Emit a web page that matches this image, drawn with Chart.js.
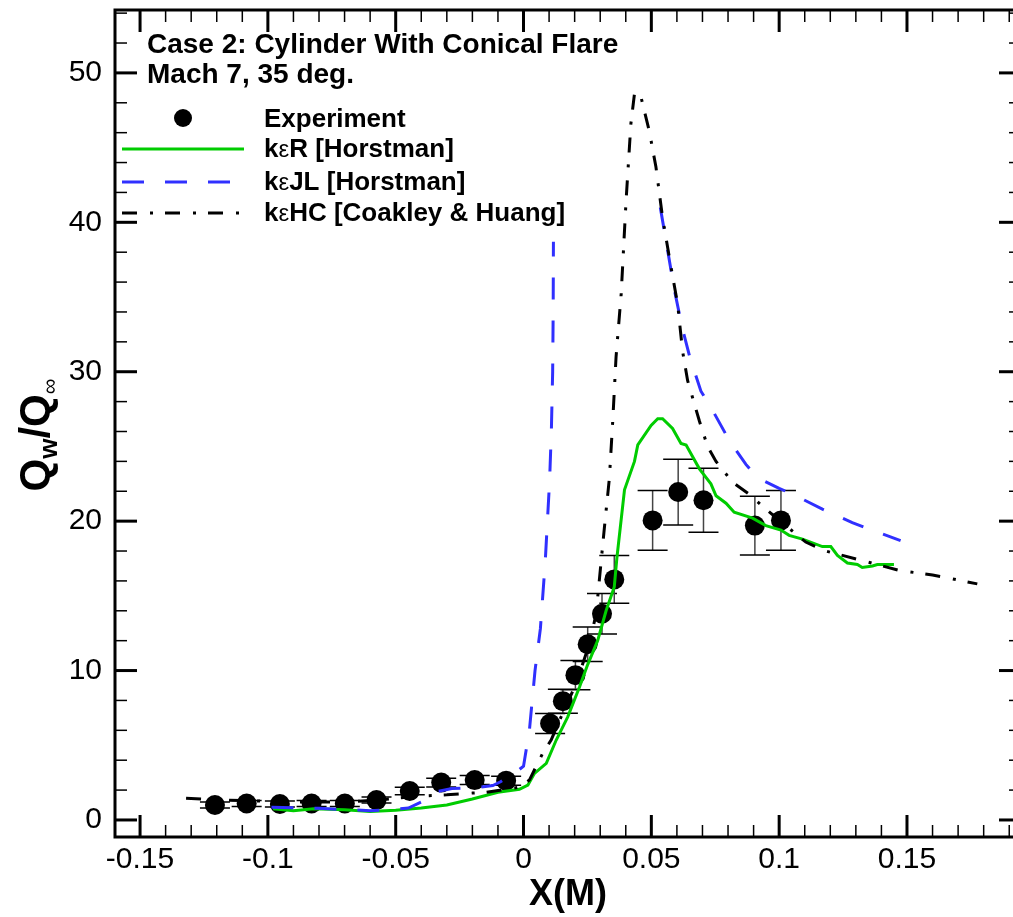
<!DOCTYPE html>
<html>
<head>
<meta charset="utf-8">
<script src="https://cdn.jsdelivr.net/npm/chart.js@4/dist/chart.umd.min.js"></script>
<style>
  html, body { margin: 0; padding: 0; background: #fff; overflow: hidden; }
  canvas { display: block; }
</style>
</head>
<body>
<canvas id="chart" width="1040" height="917"></canvas>
<script>
// Experiment (with error bars)
const expX = [-0.1207, -0.1083, -0.0953, -0.0829, -0.0699, -0.0575, -0.0445, -0.0322, -0.0191, -0.0068,
              0.0104, 0.0154, 0.0203, 0.0251, 0.0307, 0.0355, 0.0505, 0.0605, 0.0704, 0.0905, 0.1007];
const expY = [1.0, 1.1, 1.07, 1.1, 1.1, 1.33, 1.94, 2.5, 2.67, 2.63,
              6.46, 7.95, 9.69, 11.76, 13.8, 16.1, 20.05, 21.95, 21.4, 19.7, 20.05];
const expErr = [0.2, 0.2, 0.2, 0.2, 0.2, 0.2, 0.25, 0.3, 0.3, 0.3,
                0.67, 0.8, 0.98, 1.15, 1.36, 1.6, 2.0, 2.2, 2.14, 1.96, 2.0];

// k-eps R [Horstman]
const rX = [-0.098, -0.09, -0.082, -0.07, -0.06, -0.05, -0.04, -0.03, -0.02, -0.01, -0.0016, 0.0017, 0.0043,
            0.0089, 0.0128, 0.0173, 0.0219, 0.0251, 0.029, 0.0323, 0.0355, 0.0365, 0.0395, 0.0434, 0.0447,
            0.0499, 0.0525, 0.0544, 0.0583, 0.0616, 0.0636, 0.0688, 0.0733, 0.0753, 0.0792, 0.0824, 0.0896,
            0.0948, 0.1007, 0.1039, 0.1091, 0.1169, 0.1202, 0.1228, 0.1267, 0.1306, 0.1325, 0.1365, 0.1384, 0.1449];
const rY = [0.75, 0.62, 0.75, 0.68, 0.56, 0.65, 0.8, 1.0, 1.4, 1.85, 2.05, 2.34, 3.12,
            3.79, 5.35, 6.9, 8.9, 10.4, 12.0, 14.0, 15.6, 17.5, 22.1, 24.0, 25.1,
            26.4, 26.85, 26.85, 26.2, 25.2, 25.1, 23.5, 22.5, 21.7, 21.2, 20.6, 20.2,
            19.7, 19.4, 19.05, 18.8, 18.3, 18.3, 17.7, 17.2, 17.1, 16.9, 17.0, 17.1, 17.1];

// k-eps JL [Horstman] (null = break in the curve)
const jlX = [-0.0986, -0.09, -0.08, -0.07, -0.06, -0.05, -0.045, -0.04, -0.034, -0.028, -0.017, -0.012, -0.009,
             -0.003, 0.0, 0.0023, 0.0045, 0.0066, 0.0085, 0.0102, 0.0109, 0.0114, 0.0116, 0.0117, 0.03,
             0.0535, 0.056, 0.059, 0.062, 0.065, 0.0694, 0.074, 0.0805, 0.087, 0.0915, 0.1, 0.1065,
             0.1169, 0.1286, 0.1378, 0.1475];
const jlY = [0.85, 0.82, 0.78, 0.7, 0.62, 0.72, 0.8, 1.2, 1.9, 2.1, 2.2, 2.3, 2.56,
             3.2, 3.6, 6.0, 10.0, 12.8, 17.3, 22.7, 26.1, 30, 34, 38.7, null,
             41, 38.5, 35.5, 33, 31, 28.7, 27.4, 25.4, 23.8, 22.9, 22.2, 21.7,
             20.8, 19.9, 19.3, 18.7];

// k-eps HC [Coakley & Huang]
const hcX = [-0.132, -0.12, -0.11, -0.1, -0.09, -0.08, -0.07, -0.06, -0.05, -0.04, -0.03, -0.02, -0.0146,
             -0.0016, 0.0023, 0.0075, 0.0108, 0.0147, 0.0206, 0.0258, 0.0284, 0.0303, 0.0316, 0.0336, 0.0349,
             0.0362, 0.0382, 0.0401, 0.042, 0.0434, 0.044, 0.046, 0.0492, 0.0518, 0.0544, 0.0577, 0.0603,
             0.0622, 0.0642, 0.0688, 0.072, 0.0753, 0.0818, 0.0883, 0.0948, 0.1026, 0.1104, 0.1182, 0.1339,
             0.1469, 0.16, 0.1775];
const hcY = [1.45, 1.35, 1.3, 1.25, 1.2, 1.2, 1.2, 1.3, 1.45, 1.6, 1.68, 1.8, 1.85,
             2.2, 2.67, 4.46, 5.35, 6.9, 9.14, 11.8, 13.8, 17.2, 19.5, 22.9, 26.7,
             31.0, 35.2, 41.4, 46.6, 48.6, 48.75, 48.35, 46.1, 43.7, 40.3, 37.0, 34.5,
             31.4, 29.4, 26.7, 25.0, 24.0, 22.6, 21.8, 20.8, 19.7, 18.6, 18.0, 17.3,
             16.7, 16.4, 15.8];

const FONT = '"Liberation Sans", Arial, Helvetica, sans-serif';
const GREEN = '#00cc00';
const BLUE = '#3030ff';
const HC_DASH = [15, 13, 3, 12];
const JL_DASH = [22, 21];

const toPoints = (xs, ys) => xs.map((x, i) => ({ x: x, y: ys[i] }));

// inward ticks on all four sides + frame
const frameTicks = {
    id: 'frameTicks',
    afterDraw(chart) {
        const { ctx, chartArea: a, scales: { x, y } } = chart;
        ctx.save();
        ctx.strokeStyle = '#000';
        const seg = (x1, y1, x2, y2) => {
            ctx.beginPath(); ctx.moveTo(x1, y1); ctx.lineTo(x2, y2); ctx.stroke();
        };
        for (let i = -15; i <= 19; i++) {
            const px = x.getPixelForValue(i / 100);
            const major = i % 5 === 0;
            const len = major ? 22 : 12;
            ctx.lineWidth = major ? 3 : 1.5;
            seg(px, a.bottom, px, a.bottom - len);
            seg(px, a.top, px, a.top + len);
        }
        for (let v = 0; v <= 54; v += 2) {
            const py = y.getPixelForValue(v);
            const major = v % 10 === 0;
            const len = major ? 22 : 12;
            ctx.lineWidth = major ? 3 : 1.5;
            seg(a.left, py, a.left + len, py);
            seg(a.right, py, a.right - len, py);
        }
        ctx.lineWidth = 3;
        ctx.strokeRect(a.left, a.top, a.right - a.left, a.bottom - a.top);
        ctx.restore();
    }
};

// error bars under the experiment markers
const errorBars = {
    id: 'errorBars',
    beforeDatasetsDraw(chart) {
        const { ctx, chartArea: a, scales: { x, y } } = chart;
        ctx.save();
        ctx.beginPath();
        ctx.rect(a.left, a.top, a.right - a.left, a.bottom - a.top);
        ctx.clip();
        expX.forEach((xv, i) => {
            const px = x.getPixelForValue(xv);
            const top = y.getPixelForValue(expY[i] + expErr[i]);
            const bot = y.getPixelForValue(expY[i] - expErr[i]);
            ctx.strokeStyle = '#444';
            ctx.lineWidth = 1.5;
            ctx.beginPath(); ctx.moveTo(px, top); ctx.lineTo(px, bot); ctx.stroke();
            ctx.strokeStyle = '#000';
            ctx.beginPath();
            ctx.moveTo(px - 15, top); ctx.lineTo(px + 15, top);
            ctx.moveTo(px - 15, bot); ctx.lineTo(px + 15, bot);
            ctx.stroke();
        });
        ctx.restore();
    }
};

// draws a run of text pieces with their own font / vertical shift
function drawRuns(ctx, x, y, runs) {
    let cx = x;
    runs.forEach(r => {
        ctx.font = r.font;
        ctx.fillText(r.t, cx, y + (r.dy || 0));
        cx += ctx.measureText(r.t).width;
    });
    return cx;
}

// annotation, legend and the y-axis title
const annotations = {
    id: 'annotations',
    afterDraw(chart) {
        const ctx = chart.ctx;
        ctx.save();
        ctx.fillStyle = '#000';
        ctx.textBaseline = 'alphabetic';
        ctx.textAlign = 'left';

        ctx.font = 'bold 28px ' + FONT;
        ctx.fillText('Case 2: Cylinder With Conical Flare', 147, 53);
        ctx.fillText('Mach 7, 35 deg.', 147, 83);

        const bold = 'bold 26px ' + FONT;
        const eps = '24px ' + FONT;
        const textX = 264;
        const x1 = 122, x2 = 244;

        // Experiment
        ctx.beginPath();
        ctx.arc(183, 118, 9, 0, Math.PI * 2);
        ctx.fill();
        drawRuns(ctx, textX, 127, [{ t: 'Experiment', font: bold }]);

        // k-eps R
        ctx.strokeStyle = GREEN; ctx.lineWidth = 3;
        ctx.beginPath(); ctx.moveTo(x1, 149); ctx.lineTo(x2, 149); ctx.stroke();
        drawRuns(ctx, textX, 157, [{ t: 'k', font: bold }, { t: 'ε', font: eps }, { t: 'R [Horstman]', font: bold }]);

        // k-eps JL
        ctx.strokeStyle = BLUE; ctx.setLineDash(JL_DASH);
        ctx.beginPath(); ctx.moveTo(x1, 182); ctx.lineTo(x2, 182); ctx.stroke();
        drawRuns(ctx, textX, 190, [{ t: 'k', font: bold }, { t: 'ε', font: eps }, { t: 'JL [Horstman]', font: bold }]);

        // k-eps HC
        ctx.strokeStyle = '#000'; ctx.setLineDash(HC_DASH);
        ctx.beginPath(); ctx.moveTo(x1, 213); ctx.lineTo(x2, 213); ctx.stroke();
        ctx.setLineDash([]);
        drawRuns(ctx, textX, 221, [{ t: 'k', font: bold }, { t: 'ε', font: eps }, { t: 'HC [Coakley & Huang]', font: bold }]);

        // y title Q_w / Q_inf
        ctx.translate(33, 435);
        ctx.rotate(-Math.PI / 2);
        const big = 'bold 42px ' + FONT;
        const sub = 'bold 26px ' + FONT;
        const runs = [
            { t: 'Q', font: big }, { t: 'w', font: sub, dy: 8 },
            { t: '/Q', font: big }, { t: '∞', font: '22px ' + FONT, dy: 8 }
        ];
        let w = 0;
        runs.forEach(r => { ctx.font = r.font; w += ctx.measureText(r.t).width; });
        drawRuns(ctx, -w / 2, 16, runs);
        ctx.restore();
    }
};

const tickFont = { family: FONT, size: 30 };

// keep the plot frame exactly where the layout padding says
const noScalePadding = s => {
    s.paddingTop = 0; s.paddingBottom = 0; s.paddingLeft = 0; s.paddingRight = 0;
};

new Chart(document.getElementById('chart'), {
    type: 'scatter',
    data: {
        datasets: [
            {
                label: 'kεHC [Coakley & Huang]',
                data: toPoints(hcX, hcY),
                showLine: true, borderColor: '#000', borderWidth: 3, borderDash: HC_DASH,
                pointRadius: 0, order: 1
            },
            {
                label: 'kεJL [Horstman]',
                data: toPoints(jlX, jlY),
                showLine: true, spanGaps: false, borderColor: BLUE, borderWidth: 3, borderDash: JL_DASH,
                pointRadius: 0, order: 2
            },
            {
                label: 'kεR [Horstman]',
                data: toPoints(rX, rY),
                showLine: true, borderColor: GREEN, borderWidth: 3,
                pointRadius: 0, order: 3
            },
            {
                label: 'Experiment',
                data: toPoints(expX, expY),
                showLine: false, pointRadius: 10, pointBackgroundColor: '#000', pointBorderWidth: 0,
                order: 4
            }
        ]
    },
    options: {
        responsive: false,
        animation: false,
        devicePixelRatio: 1,
        layout: { padding: { left: 0, right: 19, top: 9, bottom: 0 } },
        plugins: { legend: { display: false }, tooltip: { enabled: false } },
        scales: {
            x: {
                type: 'linear',
                min: -0.1598,
                max: 0.1946,
                afterFit: s => { s.height = 80; noScalePadding(s); },
                grid: { display: false, drawTicks: false },
                border: { display: false },
                ticks: {
                    stepSize: 0.05, includeBounds: false, autoSkip: false, maxRotation: 0,
                    color: '#000', font: tickFont, padding: 5,
                    callback: v => String(+v.toFixed(2))
                },
                title: { display: true, text: 'X(M)', color: '#000', padding: 0,
                         font: { family: FONT, size: 36, weight: 'bold' } }
            },
            y: {
                type: 'linear',
                min: -1.14,
                max: 54.21,
                afterFit: s => { s.width = 115; noScalePadding(s); },
                grid: { display: false, drawTicks: false },
                border: { display: false },
                ticks: {
                    stepSize: 10, includeBounds: false, autoSkip: false,
                    color: '#000', font: tickFont, padding: 13,
                    callback: v => String(v)
                }
            }
        }
    },
    plugins: [errorBars, frameTicks, annotations]
});
</script>
</body>
</html>
